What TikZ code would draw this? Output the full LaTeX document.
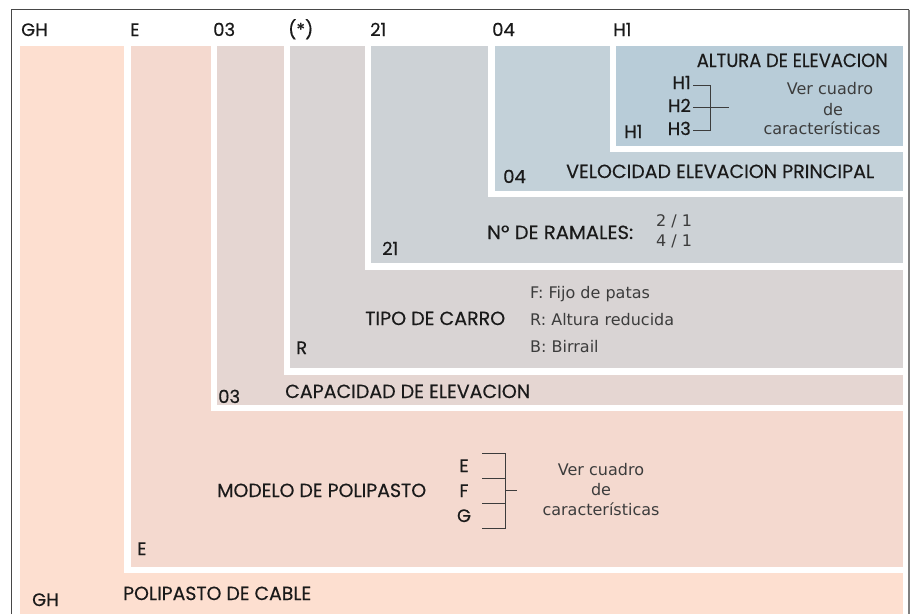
\documentclass[tikz,border=0pt]{standalone}
\usepackage{fontspec}
\usepackage{graphicx}
\newfontfamily\labfont[FakeBold=0.35]{Poppins}
\newfontfamily\smfont{DejaVu Sans}
\definecolor{cGH}{HTML}{FDDFD0}
\definecolor{cE}{HTML}{F4D9CF}
\definecolor{cOT}{HTML}{E5D6D2}
\definecolor{cST}{HTML}{D9D4D4}
\definecolor{cTW}{HTML}{CDD2D6}
\definecolor{cOF}{HTML}{C3D1D9}
\definecolor{cHI}{HTML}{B8CCD8}
\definecolor{ink}{HTML}{1A1A1A}
\newcommand\fitw[2]{\resizebox{#1pt}{\height}{#2}}
\begin{document}
\begin{tikzpicture}[x=1pt,y=-1pt,
  hdr/.style={inner sep=0pt, anchor=base west, text=ink, font=\labfont\fontsize{18}{20}\selectfont},
  lab/.style={inner sep=0pt, anchor=base west, text=ink, font=\labfont\fontsize{19}{21}\selectfont},
  sml/.style={inner sep=0pt, anchor=base, text=ink!85, font=\smfont\fontsize{16}{18}\selectfont},
  brk/.style={draw=ink!85, line width=0.8pt}]
\useasboundingbox (0,0) rectangle (916,614);
% frame
\draw[ink!80, line width=1pt] (11,614) -- (11,9.5) -- (909,9.5);
\draw[gray, line width=1.6pt] (909,9.5) -- (909,614);
% regions
\fill[cGH] (20,46) rectangle (903,614);
\fill[white] (124,46) rectangle (903,573);
\fill[cE] (131,46) rectangle (903,567);
\fill[white] (211,46) rectangle (903,411);
\fill[cOT] (217,46) rectangle (903,405);
\fill[white] (284,46) rectangle (903,375);
\fill[cST] (290,46) rectangle (903,368);
\fill[white] (365,46) rectangle (903,270);
\fill[cTW] (371,46) rectangle (903,263);
\fill[white] (488,46) rectangle (903,197);
\fill[cOF] (495,46) rectangle (903,191);
\fill[white] (610,46) rectangle (903,152);
\fill[cHI] (616,46) rectangle (903,146);
% header
\node[hdr] (hGH) at (21,36) {GH};
\node[hdr] (hE) at (130,36) {E};
\node[hdr] (hO3) at (213,36) {03};
\node[hdr] (hST) at (288,36) {(*)};
\node[hdr] (hTW) at (370,36) {21};
\node[hdr] (hOF) at (492,36) {04};
\node[hdr] (hHI) at (613,36) {H1};
% H1 region
\node[lab, anchor=base east] (alt) at (888,67) {\fitw{191}{ALTURA DE ELEVACION}};
\node[hdr, anchor=base east] (l1) at (691,89) {H1};
\node[hdr, anchor=base east] (l2) at (691,112) {H2};
\node[hdr, anchor=base east] (l3) at (691,135) {H3};
\draw[brk] (693,85) -- (710,85) -- (710,130) -- (693,130);
\draw[brk] (693,107) -- (729,107);
\node[sml] (v1) at (830,94) {Ver cuadro};
\node[sml] (v2) at (833,115) {de};
\node[sml] (v3) at (822,134) {características};
\node[hdr] (bHI) at (624,138) {H1};
% 04 region
\node[hdr] (bOF) at (503,183) {04};
\node[lab] (vel) at (566,178) {\fitw{308}{VELOCIDAD ELEVACION PRINCIPAL}};
% 21 region
\node[hdr] (bTW) at (382,255) {21};
\node[lab] (ram) at (487,239) {\fitw{146}{Nº DE RAMALES:}};
\node[sml, anchor=base west] (r1) at (656,226) {2 / 1};
\node[sml, anchor=base west] (r2) at (656,246) {4 / 1};
% (*) region
\node[lab] (tip) at (365,325) {\fitw{140}{TIPO DE CARRO}};
\node[sml, anchor=base west] (t1) at (530,298) {F: Fijo de patas};
\node[sml, anchor=base west] (t2) at (530,325) {R: Altura reducida};
\node[sml, anchor=base west] (t3) at (530,352) {B: Birrail};
\node[hdr] (bST) at (296,354) {R};
% 03 region
\node[hdr] (bOT) at (218,403) {03};
\node[lab] (cap) at (285,398) {\fitw{245}{CAPACIDAD DE ELEVACION}};
% E region
\node[lab] (mod) at (217,497) {\fitw{209}{MODELO DE POLIPASTO}};
\node[hdr, anchor=base] (mE) at (464,472) {E};
\node[hdr, anchor=base] (mF) at (464,497) {F};
\node[hdr, anchor=base] (mG) at (464,522) {G};
\draw[brk] (482,453) -- (505,453) -- (505,528) -- (482,528);
\draw[brk] (482,478) -- (505,478);
\draw[brk] (482,503) -- (505,503);
\draw[brk] (505,490) -- (517,490);
\node[sml] (w1) at (601,475) {Ver cuadro};
\node[sml] (w2) at (601,495) {de};
\node[sml] (w3) at (601,515) {características};
\node[hdr] (bE) at (137,555) {E};
% GH region
\node[hdr] (bGH) at (32,606) {GH};
\node[lab] (pol) at (123,600) {\fitw{188}{POLIPASTO DE CABLE}};
\end{tikzpicture}
\end{document}
